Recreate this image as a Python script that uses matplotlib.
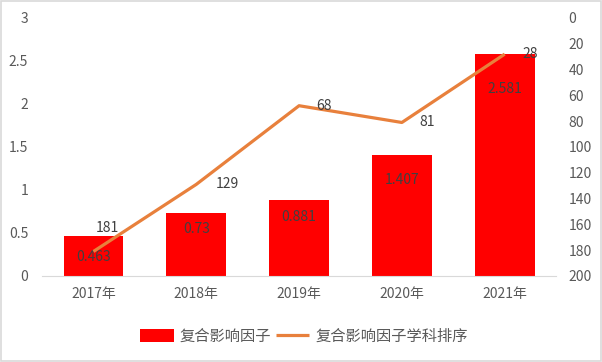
import matplotlib
matplotlib.use("Agg")
import matplotlib.pyplot as plt
from matplotlib.patches import Rectangle

plt.rcParams['font.family'] = ['Noto Sans CJK SC', 'DejaVu Sans']

years = ["2017年", "2018年", "2019年", "2020年", "2021年"]
impact = [0.463, 0.73, 0.881, 1.407, 2.581]
rank = [181, 129, 68, 81, 28]
impact_labels = ["0.463", "0.73", "0.881", "1.407", "2.581"]

TEXT = "#595959"
LABEL = "#404040"

fig = plt.figure(figsize=(6.02, 3.62), dpi=100)
fig.patches.append(Rectangle((0.002, 0.003), 0.996, 0.994, transform=fig.transFigure,
                             fill=False, edgecolor="#d9d9d9", lw=1.2))
ax = fig.add_axes([0.0698, 0.2376, 0.854, 0.7127])
x = list(range(len(years)))

bars = ax.bar(x, impact, width=0.58, color="#ff0000", label="复合影响因子", zorder=2)
ax.set_ylim(0, 3)
ax.set_xlim(-0.5, len(years) - 0.5)
ax.set_yticks([0, 0.5, 1, 1.5, 2, 2.5, 3])
ax.set_yticklabels(["0", "0.5", "1", "1.5", "2", "2.5", "3"])
ax.set_xticks(x)
ax.set_xticklabels(years)
for s in ["top", "left", "right"]:
    ax.spines[s].set_visible(False)
ax.spines["bottom"].set_color("#d9d9d9")
ax.tick_params(length=0, labelsize=10, colors=TEXT)
ax.tick_params(axis="y", pad=10)
ax.tick_params(axis="x", pad=8)

# bar value labels sit a little below each bar top
drops = [0.24, 0.18, 0.2, 0.29, 0.41]
for xi, v, lab, d in zip(x, impact, impact_labels, drops):
    ax.text(xi, v - d, lab, ha="center", va="center", fontsize=10, color=LABEL, zorder=4)

ax2 = ax.twinx()
ax2.set_ylim(200, 0)
ax2.set_yticks(range(0, 201, 20))
for s in ["top", "left", "right", "bottom"]:
    ax2.spines[s].set_visible(False)
ax2.tick_params(length=0, labelsize=10, colors=TEXT, pad=9)
line, = ax2.plot(x, rank, color="#e8803c", lw=2.3, label="复合影响因子学科排序", zorder=3,
                 solid_capstyle="butt")
offsets = [(0.14, -18), (0.3, 0), (0.24, 0), (0.25, 0), (0.25, 0)]
for xi, r, (dx, dy) in zip(x, rank, offsets):
    ax2.text(xi + dx, r + dy, str(r), ha="center", va="center", fontsize=10, color=LABEL)

fig.legend([bars, line], ["复合影响因子", "复合影响因子学科排序"], loc="center",
           bbox_to_anchor=(0.505, 0.072), ncol=2, frameon=False, fontsize=11,
           labelcolor=TEXT, handlelength=2.2, handleheight=0.9, columnspacing=0.3,
           handletextpad=0.4)

fig.savefig("out.png", dpi=100)
